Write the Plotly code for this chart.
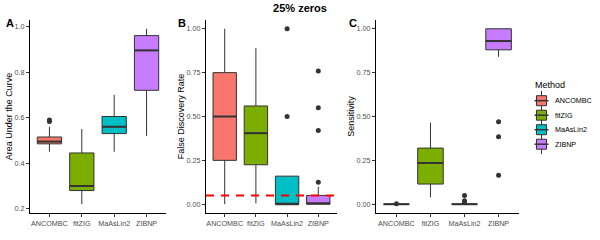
import plotly.graph_objects as go

methods = ["ANCOMBC", "fitZIG", "MaAsLin2", "ZIBNP"]
colors = ["#F8766D", "#7CAE00", "#00BFC4", "#C77CFF"]

# Panel A: Area Under the Curve
auc_low = [0.45, 0.22, 0.45, 0.52]
auc_q1 = [0.485, 0.28, 0.53, 0.72]
auc_med = [0.495, 0.30, 0.56, 0.895]
auc_q3 = [0.515, 0.445, 0.605, 0.96]
auc_high = [0.56, 0.55, 0.70, 0.99]
auc_out = {"ANCOMBC": [0.583, 0.59]}

# Panel B: False Discovery Rate
fdr_low = [0.0, 0.005, 0.0, 0.0]
fdr_q1 = [0.25, 0.225, 0.0, 0.0]
fdr_med = [0.50, 0.405, 0.0, 0.005]
fdr_q3 = [0.75, 0.56, 0.16, 0.05]
fdr_high = [1.0, 0.89, 0.16, 0.10]
fdr_out = {"MaAsLin2": [0.5, 1.0], "ZIBNP": [0.125, 0.42, 0.55, 0.76]}
fdr_threshold = 0.05

# Panel C: Sensitivity
sen_low = [0.0, 0.04, 0.0, 0.84]
sen_q1 = [0.0, 0.115, 0.0, 0.88]
sen_med = [0.0, 0.235, 0.0, 0.93]
sen_q3 = [0.0, 0.32, 0.0, 1.0]
sen_high = [0.0, 0.465, 0.0, 1.0]
sen_out = {"ANCOMBC": [0.003], "MaAsLin2": [0.01, 0.02, 0.05], "ZIBNP": [0.165, 0.385, 0.47]}

panels = [
    ("A", "Area Under the Curve", auc_low, auc_q1, auc_med, auc_q3, auc_high, auc_out),
    ("B", "False Discovery Rate", fdr_low, fdr_q1, fdr_med, fdr_q3, fdr_high, fdr_out),
    ("C", "Sensitivity", sen_low, sen_q1, sen_med, sen_q3, sen_high, sen_out),
]

W, H = 600, 240
MT, MB = 20, 27
PH = H - MT - MB
domains = [(30, 166), (206, 337), (376, 519)]
BOXW = 0.75
LINE = "#333333"
FONT = "Liberation Sans, Arial, sans-serif"

fig = go.Figure()
layout = {}
for p, (lab, ytitle, lo, q1, med, q3, hi, outs) in enumerate(panels):
    sfx = "" if p == 0 else str(p + 1)
    xa, ya = "x" + sfx, "y" + sfx
    for i, m in enumerate(methods):
        fig.add_trace(go.Box(
            x=[i], q1=[q1[i]], median=[med[i]], q3=[q3[i]],
            lowerfence=[lo[i]], upperfence=[hi[i]],
            width=BOXW, whiskerwidth=0, boxpoints=False,
            fillcolor=colors[i], line=dict(color=LINE, width=1),
            name=m, showlegend=False,
            xaxis=xa, yaxis=ya, hoverinfo="skip"))
    # thicker medians
    mx, my = [], []
    for i in range(len(methods)):
        mx += [i - BOXW / 2, i + BOXW / 2, None]
        my += [med[i], med[i], None]
    fig.add_trace(go.Scatter(x=mx, y=my, mode="lines", line=dict(color=LINE, width=2),
                             showlegend=False, xaxis=xa, yaxis=ya, hoverinfo="skip"))
    ox, oy = [], []
    for m, vals in outs.items():
        ox += [methods.index(m)] * len(vals)
        oy += vals
    if ox:
        fig.add_trace(go.Scatter(x=ox, y=oy, mode="markers",
                                 marker=dict(color=LINE, size=5),
                                 showlegend=False, xaxis=xa, yaxis=ya, hoverinfo="skip"))
    d0, d1 = domains[p]
    if p == 0:
        yr, tv, fmt = [0.1815, 1.0285], [0.2, 0.4, 0.6, 0.8, 1.0], ".1f"
    else:
        yr, tv, fmt = [-0.05, 1.05], [0, 0.25, 0.5, 0.75, 1.0], ".2f"
    layout["xaxis" + sfx] = dict(
        domain=[d0 / W, d1 / W], anchor=ya, range=[-0.6, 3.6], automargin=False,
        tickvals=list(range(len(methods))), ticktext=methods,
        showline=True, linecolor="black", linewidth=1, showgrid=False, zeroline=False,
        ticks="outside", ticklen=3, tickcolor=LINE,
        tickfont=dict(size=7.2, color="#4D4D4D", family=FONT))
    layout["yaxis" + sfx] = dict(
        domain=[0, 1], anchor=xa, range=yr, tickvals=tv, tickformat=fmt, automargin=False,
        showline=True, linecolor="black", linewidth=1, showgrid=False, zeroline=False,
        ticks="outside", ticklen=3, tickcolor=LINE,
        tickfont=dict(size=7.2, color="#4D4D4D", family=FONT),
        title=dict(text=ytitle, font=dict(size=9, color="black", family=FONT), standoff=0))

# Legend drawn on a hidden axis: one row per method
KEY_X0 = 541.5  # key centre in px
LEG_L = 528
leg_first_px = 100.7 - MT
leg_step = 14.5
layout["xaxis4"] = dict(domain=[LEG_L / W, 1], anchor="y4", range=[LEG_L - KEY_X0, W - KEY_X0],
                        visible=False, automargin=False)
layout["yaxis4"] = dict(domain=[0, 1], anchor="x4",
                        range=[(PH - leg_first_px) / leg_step, -leg_first_px / leg_step],
                        visible=False, automargin=False)
idx = list(range(len(methods)))
fig.add_trace(go.Scatter(x=[0] * len(methods), y=idx, mode="markers", xaxis="x4", yaxis="y4",
                         marker=dict(symbol="line-ns", size=14, line=dict(color=LINE, width=1)),
                         showlegend=False, hoverinfo="skip"))
fig.add_trace(go.Scatter(x=[0] * len(methods), y=idx, mode="markers", xaxis="x4", yaxis="y4",
                         marker=dict(symbol="square", size=10, color=colors,
                                     line=dict(color=LINE, width=1)),
                         showlegend=False, hoverinfo="skip"))
fig.add_trace(go.Scatter(x=[0] * len(methods), y=idx, mode="markers", xaxis="x4", yaxis="y4",
                         marker=dict(symbol="line-ew", size=10, line=dict(color=LINE, width=1.5)),
                         showlegend=False, hoverinfo="skip"))
for i, m in enumerate(methods):
    fig.add_annotation(text=m, x=11, y=i, xref="x4", yref="y4", xanchor="left", yanchor="middle",
                       showarrow=False, font=dict(size=7.2, color="black", family=FONT))
fig.add_annotation(text="Method", x=533 - KEY_X0, y=(85 - MT - leg_first_px) / leg_step,
                   xref="x4", yref="y4", xanchor="left", yanchor="middle",
                   showarrow=False, font=dict(size=9, color="black", family=FONT))

fig.update_layout(**layout)
fig.add_shape(type="line", xref="x2 domain", yref="y2", x0=0, x1=1,
              y0=fdr_threshold, y1=fdr_threshold,
              line=dict(color="#FF0000", width=2, dash="8px,7px"))

for lab, xpx in zip(["A", "B", "C"], [4, 176, 347]):
    fig.add_annotation(text="<b>%s</b>" % lab, x=xpx / W, y=1 - 3 / PH,
                       xref="paper", yref="paper", xanchor="left", yanchor="middle",
                       showarrow=False, font=dict(size=11, color="black", family=FONT))

fig.update_layout(
    width=W, height=H,
    margin=dict(l=0, r=0, t=MT, b=MB, autoexpand=False),
    plot_bgcolor="white", paper_bgcolor="white",
    title=dict(text="<b>25% zeros</b>", x=0.5, xanchor="center", y=1 - 8 / H, yanchor="middle",
               font=dict(size=11, color="black", family=FONT)),
    showlegend=False,
)

fig.write_html("out.html", config={"displayModeBar": False},
               post_script="document.body.style.margin='0';document.body.style.overflow='hidden';")
